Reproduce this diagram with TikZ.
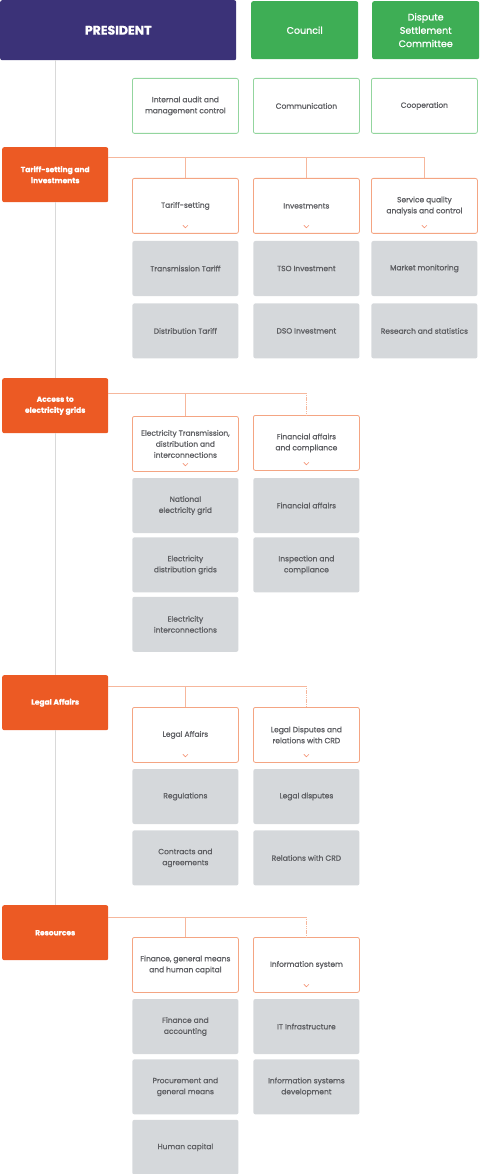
\documentclass[tikz,border=0pt]{standalone}
\usepackage{fontspec}
\setmainfont{Poppins}[FakeBold=1]
\newfontfamily\strongfont{Poppins}[FakeBold=1]
\usepackage{xcolor}
\usepackage{tikz}
\usetikzlibrary{positioning}
\definecolor{presblue}{HTML}{3B3278}
\definecolor{boardgreen}{HTML}{3EAE55}
\definecolor{staffgreen}{HTML}{93D59E}
\definecolor{deptorange}{HTML}{EC5A24}
\definecolor{unitorange}{HTML}{F4A583}
\definecolor{busorange}{HTML}{F6B79C}
\definecolor{teamgray}{HTML}{D5D8DB}
\definecolor{trunkgray}{HTML}{D9D9D9}
\definecolor{textgray}{HTML}{5E5F63}
\tikzstyle{trunk} = [draw=trunkgray, line width=0.9pt]
\tikzstyle{bus} = [draw=busorange, line width=0.9pt]
\tikzstyle{chev} = [draw=unitorange!90!red, line width=0.6pt]
\newcommand{\downmark}[1]{\draw[chev] ([xshift=-2.5pt,yshift=8.5pt]#1.south) -- ([yshift=6pt]#1.south) -- ([xshift=2.5pt,yshift=8.5pt]#1.south);}

\begin{document}
\begin{tikzpicture}[x=1pt, y=-1pt, node distance=5pt,
    box/.style={rectangle, rounded corners=2pt, minimum width=106pt, minimum height=55pt, inner sep=2pt, anchor=north west, text centered, align=center, font=\fontsize{7.5}{11}\selectfont},
    head/.style={box, fill=presblue, text=white, minimum width=236pt, minimum height=60pt, font=\fontsize{12.5}{15}\selectfont\bfseries},
    board/.style={box, fill=boardgreen, text=white, minimum width=107pt, minimum height=58pt, font=\fontsize{9.5}{13.3}\selectfont\strongfont},
    staff/.style={box, draw=staffgreen, fill=white, text=textgray, line width=0.8pt},
    dept/.style={box, fill=deptorange, text=white, font=\fontsize{7.5}{11}\selectfont\bfseries},
    unit/.style={box, draw=unitorange, fill=white, text=textgray, line width=0.8pt},
    team/.style={box, anchor=north, fill=teamgray, text=textgray}]

    \useasboundingbox (0,0) rectangle (480,1174);

    % Top level
    \node[head] (pres) at (0,0) {PRESIDENT};
    \node[board] (council) at (251,1) {Council};
    \node[board] (dispute) at (372,1) {Dispute\\Settlement\\Committee};

    % Staff offices
    \node[staff] (audit) at (132,78) {Internal audit and\\management control};
    \node[staff] (comm) at (253,78) {Communication};
    \node[staff] (coop) at (371,78) {Cooperation};

    % Tariff-setting and investments
    \node[dept] (tariff) at (2,147) {Tariff-setting and\\investments};
    \node[unit] (tset) at (132,178) {Tariff-setting};
    \node[unit] (invest) at (253,178) {Investments};
    \node[unit] (squal) at (371,178) {Service quality\\analysis and control};
    \node[team, below=7pt of tset] (ttar) {Transmission Tariff};
    \node[team, below=7pt of ttar] (dtar) {Distribution Tariff};
    \node[team, below=7pt of invest] (tso) {TSO Investment};
    \node[team, below=7pt of tso] (dso) {DSO Investment};
    \node[team, below=7pt of squal] (market) {Market monitoring};
    \node[team, below=7pt of market] (research) {Research and statistics};

    % Access to electricity grids
    \node[dept] (access) at (2,378) {Access to\\electricity grids};
    \node[unit] (etd) at (132,416) {Electricity Transmission,\\distribution and\\interconnections};
    \node[unit] (faffc) at (253,415) {Financial affairs\\and compliance};
    \node[team, below=6pt of etd] (ngrid) {National\\electricity grid};
    \node[team, below=4pt of ngrid] (dgrid) {Electricity\\distribution grids};
    \node[team, below=4pt of dgrid] (igrid) {Electricity\\interconnections};
    \node[team, below=7pt of faffc] (faff) {Financial affairs};
    \node[team, below=4pt of faff] (insp) {Inspection and\\compliance};

    % Legal Affairs
    \node[dept] (legal) at (2,675) {Legal Affairs};
    \node[unit] (laff) at (132,707) {Legal Affairs};
    \node[unit] (ldisp) at (253,707) {Legal Disputes and\\relations with CRD};
    \node[team, below=6pt of laff] (regs) {Regulations};
    \node[team, below=6pt of regs] (contr) {Contracts and\\agreements};
    \node[team, below=6pt of ldisp] (disp) {Legal disputes};
    \node[team, below=6pt of disp] (crd) {Relations with CRD};

    % Resources
    \node[dept] (res) at (2,905) {Resources};
    \node[unit] (fgm) at (132,937) {Finance, general means\\and human capital};
    \node[unit] (isys) at (253,937) {Information system};
    \node[team, below=6pt of fgm] (facc) {Finance and\\accounting};
    \node[team, below=of facc] (proc) {Procurement and\\general means};
    \node[team, below=of proc] (hcap) {Human capital};
    \node[team, below=6pt of isys] (itinf) {IT Infrastructure};
    \node[team, below=of itinf] (isdev) {Information systems\\development};

    % Chevrons
    \downmark{tset} \downmark{invest} \downmark{squal}
    \downmark{etd} \downmark{faffc}
    \downmark{laff} \downmark{ldisp}
    \downmark{isys}

    % Trunk
    \draw[trunk] (pres.south -| tariff.north) -- (tariff.north);
    \draw[trunk] (tariff) -- (access);
    \draw[trunk] (access) -- (legal);
    \draw[trunk] (legal) -- (res);

    % Department links
    \coordinate (tbus) at ([yshift=-10pt]tariff.north east);
    \draw[bus] (tbus) -| (tset.north);
    \draw[bus] (tbus) -| (invest.north);
    \draw[bus] (tbus) -| (squal.north);

    \coordinate (abus) at ([yshift=-15pt]access.north east);
    \draw[bus] (abus) -| (etd.north);
    \draw[bus] (abus) -- (abus -| faffc.north);
    \draw[bus, dash pattern=on 1.2pt off 0.6pt] (abus -| faffc.north) -- (faffc.north);

    \coordinate (lbus) at ([yshift=-11pt]legal.north east);
    \draw[bus] (lbus) -| (laff.north);
    \draw[bus] (lbus) -- (lbus -| ldisp.north);
    \draw[bus, dash pattern=on 1.2pt off 0.6pt] (lbus -| ldisp.north) -- (ldisp.north);

    \coordinate (rbus) at ([yshift=-12pt]res.north east);
    \draw[bus] (rbus) -| (fgm.north);
    \draw[bus] (rbus) -- (rbus -| isys.north);
    \draw[bus, dash pattern=on 1.2pt off 0.6pt] (rbus -| isys.north) -- (isys.north);
\end{tikzpicture}
\end{document}
